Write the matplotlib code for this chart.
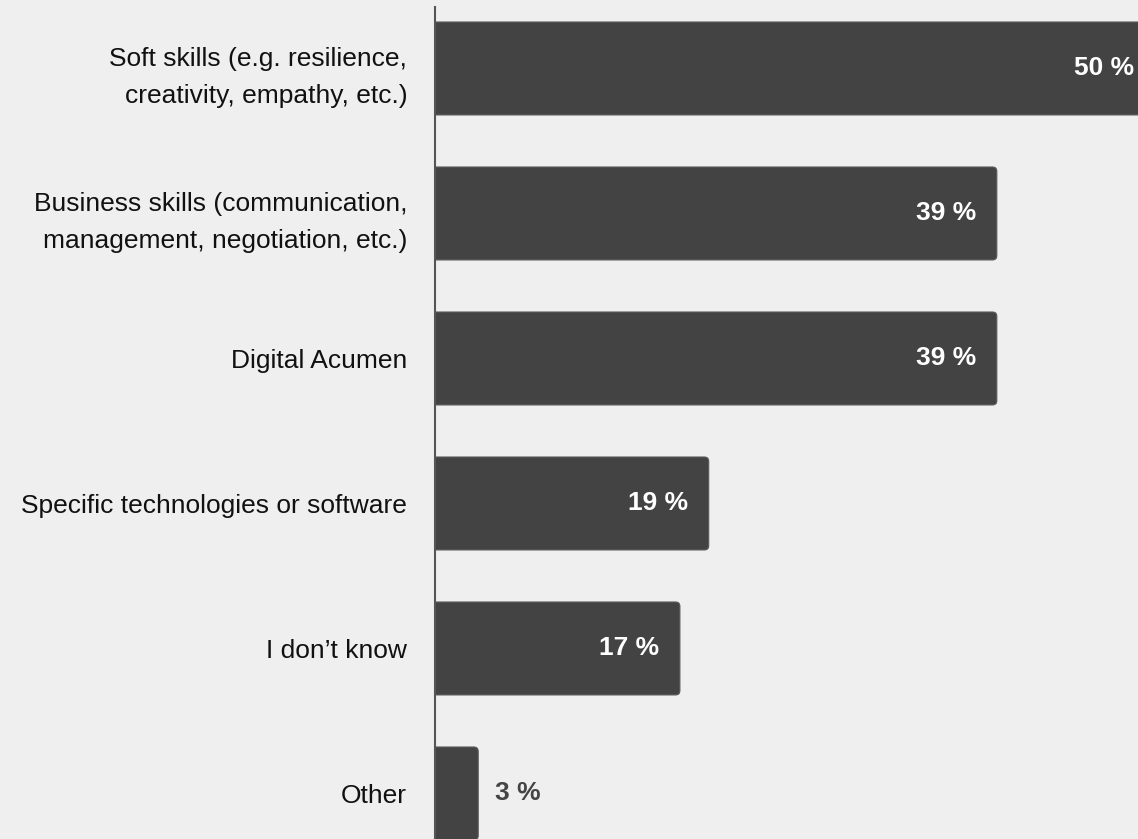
import matplotlib.pyplot as plt
from matplotlib.patches import FancyBboxPatch

plt.rcParams['font.family'] = ['Liberation Sans', 'DejaVu Sans']

categories = [
    'Soft skills (e.g. resilience,\ncreativity, empathy, etc.)',
    'Business skills (communication,\nmanagement, negotiation, etc.)',
    'Digital Acumen',
    'Specific technologies or software',
    'I don\u2019t know',
    'Other',
]
shares = [50, 39, 39, 19, 17, 3]

bg = '#efefef'
bar_color = '#434343'

fig = plt.figure(figsize=(11.38, 8.39), dpi=100, facecolor=bg)
ax = fig.add_axes([435 / 1138, 0, 1 - 435 / 1138, 832 / 839], facecolor=bg)

xmax = 48.8
ax.set_xlim(0, xmax)
ax.set_ylim(5.314, -0.424)

# x and y units differ a lot in pixels, so scale the corner radius
px_x = (1138 - 435) / xmax
px_y = 145.0
height = 0.641
for i, v in enumerate(shares):
    box = FancyBboxPatch((-1.0, i - height / 2), v + 1.0, height,
                         boxstyle='round,pad=0,rounding_size=0.3',
                         mutation_aspect=px_x / px_y,
                         facecolor=bar_color, edgecolor='#5a5a5a', linewidth=0.8)
    ax.add_patch(box)
    if v >= 10:
        ax.text(v - 21 / px_x, i, f'{v} %', ha='right', va='center',
                color='white', fontsize=19, fontweight='bold')
    else:
        ax.text(v + 17 / px_x, i, f'{v} %', ha='left', va='center',
                color='#444444', fontsize=19, fontweight='bold')

ax.set_yticks(range(len(categories)))
ax.set_yticklabels(categories, fontsize=19, color='#111111')
for t in ax.get_yticklabels():
    t.set_linespacing(1.7)
ax.tick_params(axis='y', length=0, pad=20)
ax.set_xticks([])

for side in ['top', 'right', 'bottom']:
    ax.spines[side].set_visible(False)
ax.spines['left'].set_color('#555555')
ax.spines['left'].set_linewidth(1.5)

fig.savefig('out.png', dpi=100, facecolor=bg)
